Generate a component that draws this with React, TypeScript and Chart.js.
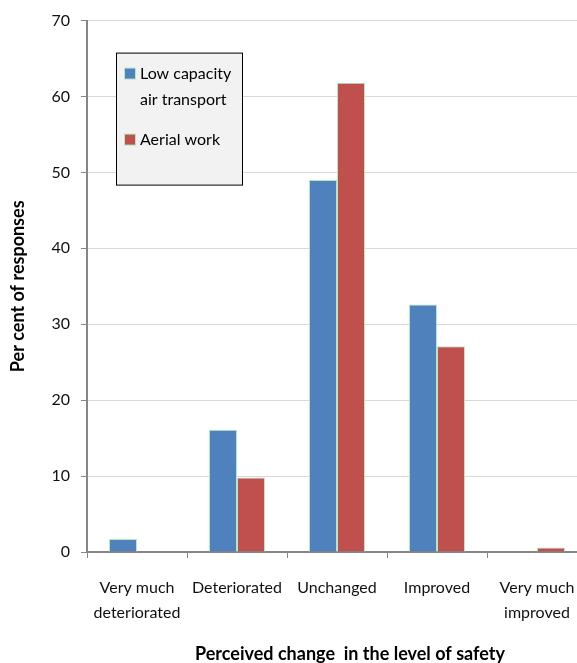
import { useEffect, useRef } from "react";
import { Chart, registerables } from "chart.js";

Chart.register(...registerables);

const categories: (string | string[])[] = [
  ["Very much", "deteriorated"],
  "Deteriorated",
  "Unchanged",
  "Improved",
  ["Very much", "improved"],
];
const seriesLowCapacityName = ["Low capacity", "air transport"];
const seriesAerialName = ["Aerial work"];
const lowCapacity = [1.7, 16.1, 49.0, 32.6, 0];
const aerialWork = [0, 9.8, 61.8, 27.1, 0.6];
const yMin = 0;
const yMax = 70;
const yStep = 10;
const xTitle = "Perceived change  in the level of safety";
const yTitle = "Per cent of responses";

const FONT = "Lato, 'Open Sans', sans-serif";
const BLUE = "#4f81bd";
const RED = "#c0504d";
const BAR_BORDER = "#b4e8c4";
const AXIS = "#868686";
const GRID = "#d9d9d9";

const legendPlugin = {
  id: "boxLegend",
  afterDraw(chart: any) {
    const ctx = chart.ctx;
    const left = chart.chartArea.left + 29;
    const top = chart.chartArea.top + 32;
    const w = 126;
    const h = 132;
    ctx.save();
    ctx.fillStyle = "#f2f2f2";
    ctx.fillRect(left, top, w, h);
    ctx.strokeStyle = "#000";
    ctx.lineWidth = 1;
    ctx.strokeRect(left + 0.5, top + 0.5, w, h);
    const items = chart.data.datasets.map((ds: any, i: number) => ({
      color: ds.backgroundColor,
      lines: i === 0 ? seriesLowCapacityName : seriesAerialName,
    }));
    const itemTops = [15, 81];
    ctx.font = `16px ${FONT}`;
    ctx.textBaseline = "middle";
    ctx.textAlign = "left";
    items.forEach((it: any, i: number) => {
      const sy = top + itemTops[i];
      ctx.fillStyle = BAR_BORDER;
      ctx.fillRect(left + 8, sy, 12, 12);
      ctx.fillStyle = it.color;
      ctx.fillRect(left + 9, sy + 1, 10, 10);
      ctx.fillStyle = "#000";
      it.lines.forEach((ln: string, j: number) => {
        ctx.fillText(ln, left + 24, sy + 6 + j * 26);
      });
    });
    ctx.restore();
  },
};

const xTitlePlugin = {
  id: "xTitleText",
  afterDraw(chart: any) {
    const ctx = chart.ctx;
    const area = chart.chartArea;
    ctx.save();
    ctx.font = `bold 18px ${FONT}`;
    ctx.fillStyle = "#000";
    ctx.textAlign = "center";
    ctx.textBaseline = "alphabetic";
    ctx.fillText(xTitle, (area.left + area.right) / 2 + 13, chart.height - 3);
    ctx.restore();
  },
};

export default function App() {
  const ref = useRef<HTMLCanvasElement | null>(null);
  useEffect(() => {
    if (!ref.current) return;
    const chart = new Chart(ref.current, {
      type: "bar",
      data: {
        labels: categories,
        datasets: [
          {
            label: seriesLowCapacityName.join(" "),
            data: lowCapacity,
            backgroundColor: BLUE,
            borderColor: BAR_BORDER,
            borderWidth: 1,
            categoryPercentage: 0.56,
            barPercentage: 1.0,
          },
          {
            label: seriesAerialName.join(" "),
            data: aerialWork,
            backgroundColor: RED,
            borderColor: BAR_BORDER,
            borderWidth: 1,
            categoryPercentage: 0.56,
            barPercentage: 1.0,
          },
        ],
      },
      options: {
        responsive: false,
        animation: false,
        layout: { padding: { top: 20, right: 13, left: 0, bottom: 0 } },
        plugins: {
          legend: { display: false },
          tooltip: { enabled: false },
        },
        scales: {
          x: {
            grid: {
              display: true,
              drawOnChartArea: false,
              drawTicks: true,
              tickLength: 6,
              tickColor: AXIS,
              offset: true,
            },
            border: { color: AXIS, width: 2 },
            ticks: {
              color: "#111",
              font: { family: FONT, size: 16, lineHeight: 1.56 },
              padding: 17,
              maxRotation: 0,
              autoSkip: false,
            },
            title: { display: false },
            afterFit(scale: any) {
              scale.height = 111;
            },
          },
          y: {
            min: yMin,
            max: yMax,
            ticks: {
              stepSize: yStep,
              color: "#111",
              font: { family: FONT, size: 16 },
              padding: 11,
            },
            grid: {
              color: GRID,
              lineWidth: 1,
              tickColor: AXIS,
              tickLength: 6,
            },
            border: { color: AXIS, width: 2 },
            title: {
              display: true,
              text: yTitle,
              color: "#000",
              font: { family: FONT, size: 18, weight: "bold", lineHeight: 0.7 },
              padding: { top: 12, bottom: 0 },
            },
            afterFit(scale: any) {
              scale.width = 87;
            },
          },
        },
      },
      plugins: [legendPlugin, xTitlePlugin],
    });
    return () => chart.destroy();
  }, []);
  return (
    <div
      style={{
        position: "fixed",
        left: 0,
        top: 0,
        width: 577,
        height: 663,
        overflow: "hidden",
        background: "#fff",
      }}
    >
      <canvas ref={ref} width={600} height={663} style={{ display: "block" }} />
    </div>
  );
}
